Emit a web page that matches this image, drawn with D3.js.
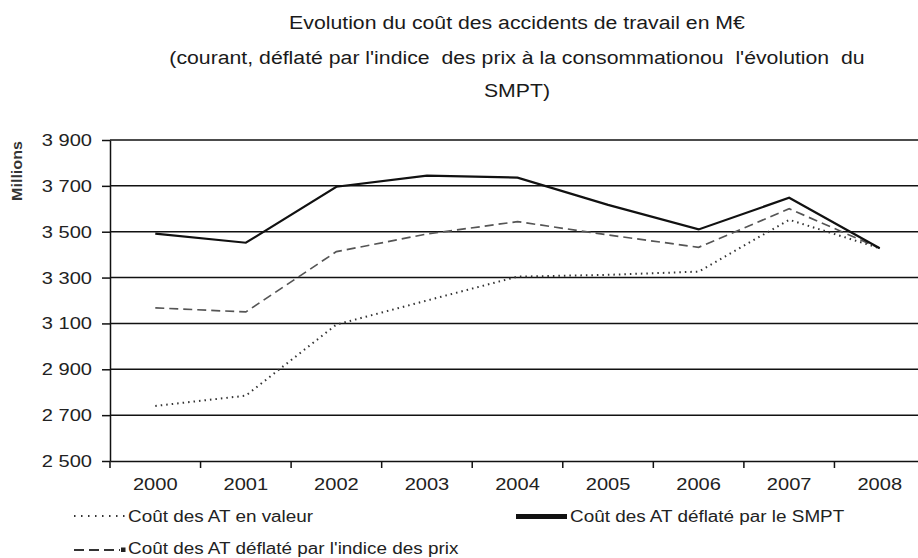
<!DOCTYPE html>
<html><head><meta charset="utf-8">
<script src="https://cdn.jsdelivr.net/npm/d3@7"></script>
<style>body{margin:0;background:#fff}svg{display:block}text{font-family:"Liberation Sans",Arial,sans-serif;white-space:pre}</style>
</head><body><svg id="c" width="918" height="558"></svg>
<script>
const years = ["2000","2001","2002","2003","2004","2005","2006","2007","2008"];
const valeur = [2740, 2785, 3095, 3200, 3304, 3312, 3326, 3552, 3428];
const prix   = [3168, 3150, 3413, 3490, 3544, 3486, 3432, 3600, 3428];
const smpt   = [3492, 3452, 3696, 3745, 3736, 3617, 3510, 3648, 3428];
const yTicks = [2500, 2700, 2900, 3100, 3300, 3500, 3700, 3900];
const titleLines = ["Evolution du coût des accidents de travail en M€",
  "(courant, déflaté par l'indice  des prix à la consommationou  l'évolution  du",
  "SMPT)"];
const legendLabels = ["Coût des AT en valeur", "Coût des AT déflaté par le SMPT",
  "Coût des AT déflaté par l'indice des prix"];

const SX = 1.18;
function stretch(sel, f) {
  sel.each(function(){
    const w = this.getComputedTextLength();
    d3.select(this).attr("textLength", w * f).attr("lengthAdjust", "spacingAndGlyphs");
  });
}

const svg = d3.select("#c");
const x = d3.scaleBand().domain(years).range([110, 925]);
const y = d3.scaleLinear().domain([2500, 3900]).range([461, 140]);
const fmt = v => d3.format(",")(v).replace(",", " ");

// title
const tt = svg.append("g").selectAll("text").data(titleLines).join("text")
  .attr("x", 517).attr("y", (d,i)=>[29, 64, 97][i])
  .attr("text-anchor","middle").attr("font-size", 18).attr("fill","#1a1a1a")
  .text(d=>d);
stretch(tt, SX);

// gridlines
svg.append("g").selectAll("line").data(yTicks.slice(1)).join("line")
  .attr("x1",110).attr("x2",918).attr("y1",d=>y(d)).attr("y2",d=>y(d))
  .attr("stroke","#111").attr("stroke-width",1.5);

// y axis
const ya = svg.append("g").attr("transform","translate(110,0)")
  .call(d3.axisLeft(y).tickValues(yTicks).tickFormat(fmt).tickSize(8).tickSizeOuter(0).tickPadding(10));
ya.select(".domain").attr("stroke","#111").attr("stroke-width",1.5);
ya.selectAll(".tick line").attr("stroke","#111").attr("stroke-width",1.5);
ya.selectAll("text").attr("font-size",17).attr("fill","#222").attr("font-family","Liberation Sans, Arial, sans-serif");
stretch(ya.selectAll("text"), SX);

// x axis
const xa = svg.append("g").attr("transform","translate(0,461)")
  .call(d3.axisBottom(x).tickSize(0).tickSizeOuter(0).tickPadding(17));
xa.select(".domain").attr("stroke","#111").attr("stroke-width",1.5);
xa.selectAll("text").attr("font-size",17).attr("fill","#222").attr("font-family","Liberation Sans, Arial, sans-serif");
stretch(xa.selectAll("text"), SX);
svg.append("g").selectAll("line").data(years).join("line")
  .attr("x1",d=>x(d)).attr("x2",d=>x(d)).attr("y1",461).attr("y2",468)
  .attr("stroke","#111").attr("stroke-width",1.5);

// Millions label
svg.append("text").attr("transform","translate(22,171) rotate(-90)")
  .attr("text-anchor","middle").attr("font-size",14).attr("font-weight","bold").attr("fill","#333")
  .attr("textLength",60).attr("lengthAdjust","spacingAndGlyphs")
  .text("Millions");

const line = d3.line().x((d,i)=>x(years[i])+x.bandwidth()/2).y(d=>y(d));
svg.append("path").datum(prix).attr("d",line).attr("fill","none")
  .attr("stroke","#555").attr("stroke-width",1.7).attr("stroke-dasharray","9,5");
svg.append("path").datum(valeur).attr("d",line).attr("fill","none")
  .attr("stroke","#333").attr("stroke-width",2).attr("stroke-dasharray","1.5,4");
svg.append("path").datum(smpt).attr("d",line).attr("fill","none")
  .attr("stroke","#111").attr("stroke-width",2.2);

// legend
const lg = svg.append("g");
lg.append("line").attr("x1",74).attr("x2",125).attr("y1",516).attr("y2",516)
  .attr("stroke","#333").attr("stroke-width",2).attr("stroke-dasharray","1.5,5.5");
lg.append("line").attr("x1",516).attr("x2",567).attr("y1",516.5).attr("y2",516.5)
  .attr("stroke","#111").attr("stroke-width",5);
lg.append("line").attr("x1",74).attr("x2",120).attr("y1",550).attr("y2",550)
  .attr("stroke","#333").attr("stroke-width",2).attr("stroke-dasharray","10,5");
lg.append("rect").attr("x",121).attr("y",547.5).attr("width",4.5).attr("height",4.5).attr("fill","#222");
const lt = lg.selectAll("text.lab").data(legendLabels).join("text").attr("class","lab")
  .attr("x",(d,i)=>[128,570,128][i]).attr("y",(d,i)=>[522,522,554][i])
  .attr("font-size",16).attr("fill","#222").text(d=>d);
stretch(lt, SX);
</script></body></html>
